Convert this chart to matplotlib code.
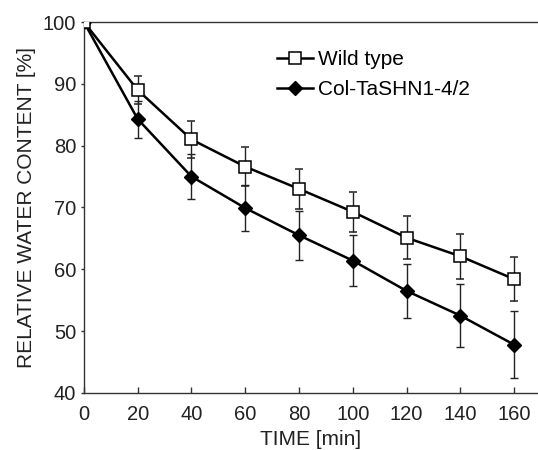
import numpy as np
import matplotlib
matplotlib.use('Agg')
import matplotlib.pyplot as plt

plt.rcParams['font.family'] = ['Liberation Sans', 'DejaVu Sans']

time_min = [0, 20, 40, 60, 80, 100, 120, 140, 160]
wild_type = [100, 89.0, 81.0, 76.6, 73.0, 69.3, 65.1, 62.1, 58.4]
wild_type_err = [0, 2.2, 3.0, 3.2, 3.2, 3.2, 3.5, 3.6, 3.6]
col_tashn = [100, 84.3, 75.0, 69.9, 65.5, 61.4, 56.5, 52.5, 47.8]
col_tashn_err = [0, 3.0, 3.7, 3.7, 4.0, 4.1, 4.4, 5.1, 5.4]

fig = plt.figure(figsize=(5.38, 4.5), dpi=100)
ax = fig.add_axes([0.156, 0.127, 0.844, 0.824])

ax.errorbar(time_min, wild_type, yerr=wild_type_err, color='black', lw=1.8,
            marker='s', ms=8.5, mfc='white', mec='black', mew=1.1,
            ecolor='#222222', elinewidth=1.0, capsize=3, capthick=1.0,
            label='Wild type', zorder=3)
ax.errorbar(time_min, col_tashn, yerr=col_tashn_err, color='black', lw=1.8,
            marker='D', ms=7, mfc='black', mec='black',
            ecolor='#222222', elinewidth=1.0, capsize=3, capthick=1.0,
            label='Col-TaSHN1-4/2', zorder=2)

ax.set_xlim(0, 168.9)
ax.set_ylim(40, 100)
ax.set_xticks(np.arange(0, 161, 20))
ax.set_yticks(np.arange(40, 101, 10))
ax.spines['right'].set_visible(False)
for s in ['left', 'bottom', 'top']:
    ax.spines[s].set_color('#333333')
    ax.spines[s].set_linewidth(1.0)
ax.tick_params(axis='x', direction='in', length=4, width=1, pad=9,
               labelsize=14.5, colors='#333333', labelcolor='#222222')
ax.tick_params(axis='y', direction='out', length=2.5, width=1, pad=3,
               labelsize=14.5, colors='#333333', labelcolor='#222222')

ax.set_xlabel('TIME [min]', fontsize=15, color='#222222', labelpad=4)
ax.set_ylabel('RELATIVE WATER CONTENT [%]', fontsize=15, color='#222222', labelpad=5)

handles, labels = ax.get_legend_handles_labels()
handles = [h[0] for h in handles]
leg = ax.legend(handles, labels, loc='upper left', frameon=False,
                bbox_to_anchor=(277 / 538, 1 - 50 / 450),
                bbox_transform=fig.transFigure, fontsize=15,
                handlelength=1.75, handletextpad=0.2, labelspacing=0.55,
                borderpad=0, borderaxespad=0)

fig.savefig('out.png', dpi=100)
